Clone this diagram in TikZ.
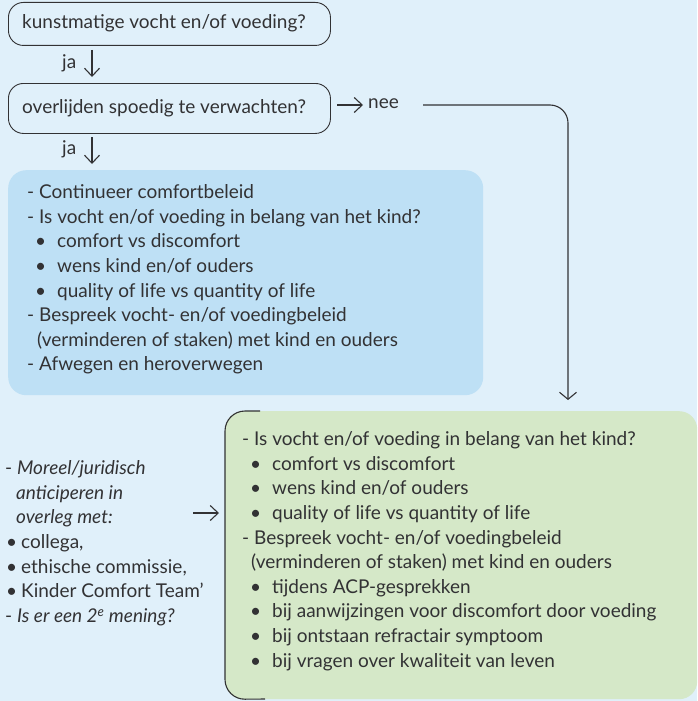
\documentclass[tikz,border=0pt]{standalone}
\usepackage{fontspec}
\setmainfont{Lato}
\usetikzlibrary{arrows.meta}
\definecolor{bg}{RGB}{224,240,250}
\definecolor{bluefill}{RGB}{190,224,245}
\definecolor{greenfill}{RGB}{213,232,200}
\definecolor{ink}{RGB}{50,50,52}
\newcommand{\blt}[1]{\hspace*{#1}\makebox[22pt][l]{\textbullet}}
\tikzset{
  qbox/.style={draw=ink, line width=0.9pt, rounded corners=15pt, minimum width=322pt, anchor=north west, inner sep=0pt},
  txt/.style={text=ink, align=left, inner sep=0pt, anchor=north west, font=\fontsize{19}{24.6}\selectfont},
  arr/.style={draw=ink, line width=1.1pt, -{Straight Barb[length=8pt,width=15pt]}},
  bigarr/.style={draw=ink, line width=1.1pt, -{Straight Barb[length=7pt,width=17pt]}},
  panel/.style={rounded corners=18pt, inner sep=0pt, anchor=north west}
}
\begin{document}
\begin{tikzpicture}[x=1pt,y=-1pt]
\fill[bg] (0,0) rectangle (697,701);
\useasboundingbox (0,0) rectangle (697,701);

% question boxes
\node[qbox, minimum height=43pt] (q1) at (8,2) {};
\node[txt, anchor=west] (q1t) at (22,23) {kunstmatige vocht en/of voeding?};
\node[qbox, minimum height=50pt] (q2) at (8,83) {};
\node[txt, anchor=west] (q2t) at (22,108) {overlijden spoedig te verwachten?};

% ja arrows
\node[txt, anchor=west] (ja1) at (62,63) {ja};
\coordinate (a1s) at (92,50);
\coordinate (a1e) at (92,77);
\draw[arr] (a1s) -- (a1e);
\node[txt, anchor=west] (ja2) at (62,149) {ja};
\coordinate (a2s) at (92,137);
\coordinate (a2e) at (92,164);
\draw[arr] (a2s) -- (a2e);

% nee
\coordinate (n1s) at (337,105);
\coordinate (n1e) at (363,105);
\draw[arr] (n1s) -- (n1e);
\node[txt, anchor=west] (nee) at (368,104) {nee};

% blue panel
\node[panel, fill=bluefill, minimum width=475pt, minimum height=225pt] (bbox) at (8,170) {};
\node[txt] (btxt) at (27,184.5) {%
- Continueer comfortbeleid\\
- Is vocht en/of voeding in belang van het kind?\\
\blt{8pt}comfort vs discomfort\\
\blt{8pt}wens kind en/of ouders\\
\blt{8pt}quality of life vs quantity of life\\
- Bespreek vocht- en/of voedingbeleid\\
\hspace*{10pt}(verminderen of staken) met kind en ouders\\
- Afwegen en heroverwegen};

% green panel
\node[panel, fill=greenfill, minimum width=472pt, minimum height=288pt] (gbox) at (225,411) {};
\coordinate (gtop) at (260,411);
\coordinate (gbot) at (265,699);
\draw[ink, line width=1.1pt, rounded corners=20pt] (gtop) -| (gbox.south west) -- (gbot);
\node[txt] (gtxt) at (242,431.5) {%
- Is vocht en/of voeding in belang van het kind?\\
\blt{8pt}comfort vs discomfort\\
\blt{8pt}wens kind en/of ouders\\
\blt{8pt}quality of life vs quantity of life\\
- Bespreek vocht- en/of voedingbeleid\\
\hspace*{9pt}(verminderen of staken) met kind en ouders\\
\blt{8pt}tijdens ACP-gesprekken\\
\blt{8pt}bij aanwijzingen voor discomfort door voeding\\
\blt{8pt}bij ontstaan refractair symptoom\\
\blt{8pt}bij vragen over kwaliteit van leven};

% nee connector
\coordinate (ns) at (423,105);
\coordinate (ne) at (568,400);
\draw[bigarr, rounded corners=18pt] (ns) -| (ne);

% left notes
\node[txt] (ltxt) at (5,460.5) {%
- \textit{Moreel/juridisch}\\
\hspace*{11pt}\textit{anticiperen in}\\
\hspace*{11pt}\textit{overleg met:}\\
\hspace*{1pt}\makebox[15pt][l]{\textbullet}collega,\\
\hspace*{1pt}\makebox[15pt][l]{\textbullet}ethische commissie,\\
\hspace*{1pt}\makebox[15pt][l]{\textbullet}Kinder Comfort Team’\\
- \textit{Is er een 2\textsuperscript{e} mening?}};
\coordinate (ls) at (193,513);
\coordinate (le) at (219,513);
\draw[arr] (ls) -- (le);
\end{tikzpicture}
\end{document}
